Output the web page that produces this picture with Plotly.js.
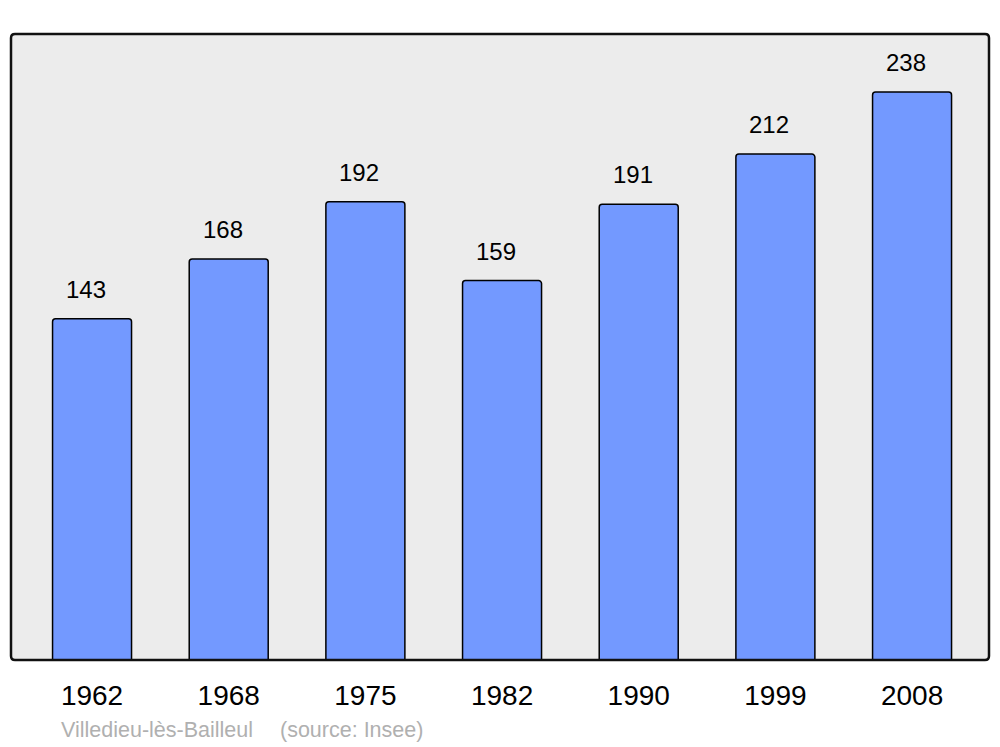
<!DOCTYPE html>
<html>
<head>
<meta charset="utf-8">
<script src="https://cdn.plot.ly/plotly-3.0.1.min.js"></script>
<style>html,body{margin:0;padding:0;background:#fff;}#chart{width:1000px;height:747px;}</style>
</head>
<body>
<div id="chart"></div>
<script>
const years = ["1962", "1968", "1975", "1982", "1990", "1999", "2008"];
const population = [143, 168, 192, 159, 191, 212, 238];
const footerName = "Villedieu-lès-Bailleul";
const footerSource = "(source: Insee)";

const W = 1000, H = 747;
const m = {l: 11, r: 11, t: 34, b: 87};
const pw = W - m.l - m.r, ph = H - m.t - m.b;
const rad = 4;
const rx = rad / pw, ry = rad / ph;
const framePath = `M ${rx},0 L ${1-rx},0 Q 1,0 1,${ry} L 1,${1-ry} Q 1,1 ${1-rx},1 L ${rx},1 Q 0,1 0,${1-ry} L 0,${ry} Q 0,0 ${rx},0 Z`;

const trace = {
  type: 'bar',
  x: years,
  y: population,
  marker: {color: '#7399ff', line: {color: '#000000', width: 1.5}, cornerradius: 3},
  hoverinfo: 'none'
};

const valueLabels = years.map((yr, i) => ({
  x: i, y: population[i], xref: 'x', yref: 'y',
  text: String(population[i]), showarrow: false,
  yanchor: 'bottom', yshift: 14, xshift: -6,
  font: {family: 'Liberation Sans, Arial, sans-serif', size: 24, color: '#000'}
}));

const layout = {
  width: W, height: H,
  margin: m,
  paper_bgcolor: '#ffffff',
  plot_bgcolor: '#ececec',
  showlegend: false,
  bargap: 0.422,
  xaxis: {
    type: 'category',
    range: [-0.593, 6.563],
    showgrid: false, zeroline: false, showline: false,
    ticks: '', ticklabelstandoff: 16,
    tickfont: {family: 'Liberation Sans, Arial, sans-serif', size: 28, color: '#000'},
    fixedrange: true
  },
  yaxis: {
    range: [0, 262.3],
    showgrid: false, zeroline: false, showline: false,
    showticklabels: false, ticks: '',
    fixedrange: true
  },
  shapes: [{
    type: 'path', xref: 'paper', yref: 'paper', path: framePath,
    line: {color: '#111111', width: 2.5}, fillcolor: 'rgba(0,0,0,0)', layer: 'above'
  }],
  annotations: valueLabels.concat([
    {x: 48/pw, y: -70/ph, xref: 'paper', yref: 'paper', xanchor: 'left', yanchor: 'middle',
     text: footerName, showarrow: false,
     font: {family: 'Liberation Sans, Arial, sans-serif', size: 21.5, color: '#b0b0b0'}},
    {x: 267/pw, y: -70/ph, xref: 'paper', yref: 'paper', xanchor: 'left', yanchor: 'middle',
     text: footerSource, showarrow: false,
     font: {family: 'Liberation Sans, Arial, sans-serif', size: 21.5, color: '#b0b0b0'}}
  ])
};

Plotly.newPlot('chart', [trace], layout, {staticPlot: true, displayModeBar: false});
</script>
</body>
</html>
